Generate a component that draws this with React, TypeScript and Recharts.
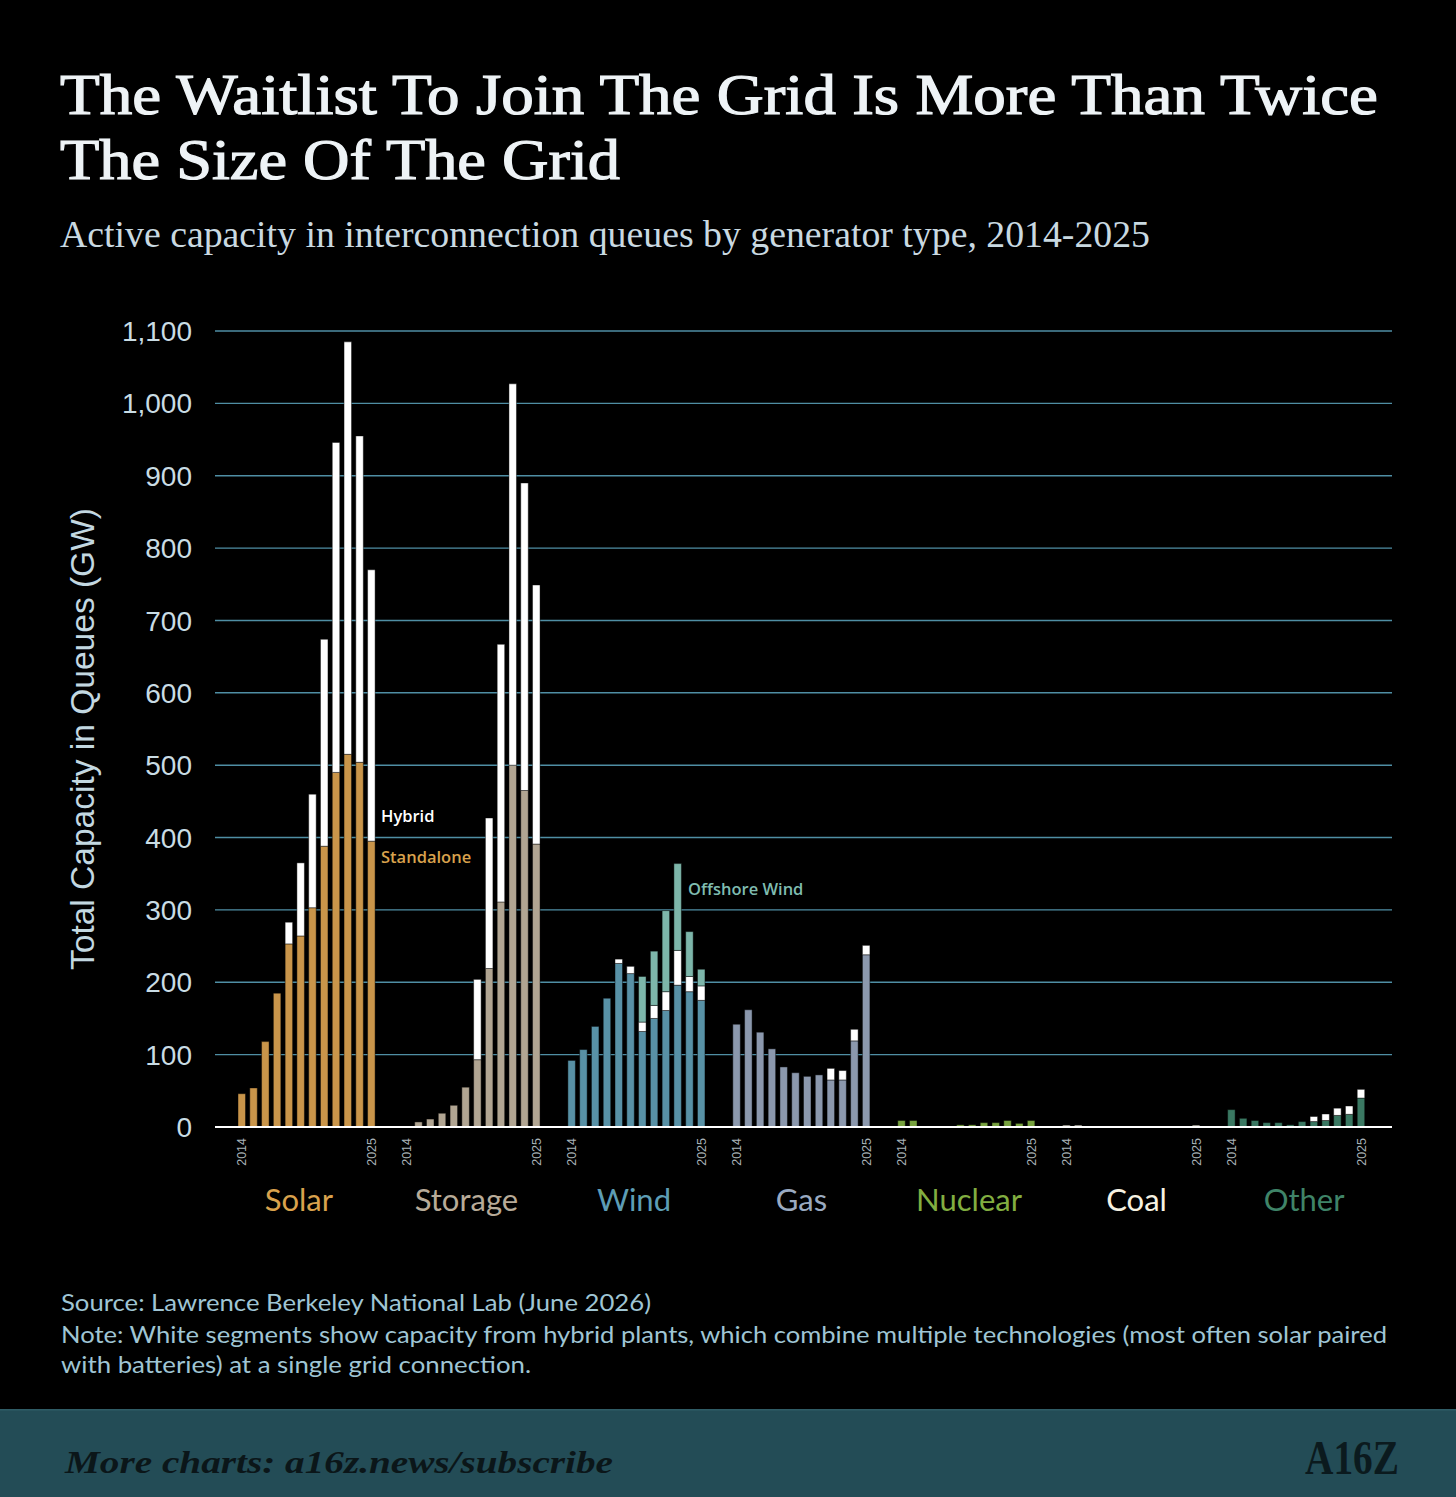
import React from "react";
import { BarChart, Bar, XAxis, YAxis, CartesianGrid, Cell } from "recharts";

// ---------- data ----------
const GROUPS = ["Solar", "Storage", "Wind", "Gas", "Nuclear", "Coal", "Other"];
const YEARS = [2014, 2015, 2016, 2017, 2018, 2019, 2020, 2021, 2022, 2023, 2024, 2025];
const YEAR_TICK_LABELS = ["2014", "2025"];
const Y_TICKS = [0, 100, 200, 300, 400, 500, 600, 700, 800, 900, 1000, 1100];

const SOLAR_STANDALONE = [46, 54, 118, 185, 253, 264, 303, 388, 490, 515, 504, 395];
const SOLAR_HYBRID = [0, 0, 0, 0, 30, 101, 157, 286, 456, 570, 451, 375];

const STORAGE_STANDALONE = [0, 7, 11, 19, 30, 55, 93, 219, 311, 500, 465, 391];
const STORAGE_HYBRID = [0, 0, 0, 0, 0, 0, 111, 208, 356, 527, 425, 358];

const WIND_STANDALONE = [92, 107, 139, 178, 226, 212, 132, 150, 161, 196, 187, 175];
const WIND_HYBRID = [0, 0, 0, 0, 6, 10, 13, 18, 26, 48, 21, 20];
const WIND_OFFSHORE = [0, 0, 0, 0, 0, 0, 63, 75, 112, 120, 62, 23];

const GAS_STANDALONE = [142, 162, 131, 108, 83, 75, 70, 72, 65, 65, 119, 238];
const GAS_HYBRID = [0, 0, 0, 0, 0, 0, 0, 0, 16, 13, 16, 13];

const NUCLEAR_STANDALONE = [9, 9, 0, 0, 0, 3, 3, 6, 6, 9, 5, 9];
const NUCLEAR_HYBRID = [0, 0, 0, 0, 0, 0, 0, 0, 0, 0, 0, 0];

const COAL_STANDALONE = [2.5, 2.5, 0, 0, 0, 0, 0, 0, 0, 0, 0, 2.5];
const COAL_HYBRID = [0, 0, 0, 0, 0, 0, 0, 0, 0, 0, 0, 0];

const OTHER_STANDALONE = [24, 12, 9, 6, 6, 3, 7.5, 7.5, 9, 16, 17.5, 40];
const OTHER_HYBRID = [0, 0, 0, 0, 0, 0, 0, 7, 9, 10, 11.5, 12];

const NO_OFFSHORE = [0, 0, 0, 0, 0, 0, 0, 0, 0, 0, 0, 0];

const STANDALONE_LIST = [SOLAR_STANDALONE, STORAGE_STANDALONE, WIND_STANDALONE, GAS_STANDALONE, NUCLEAR_STANDALONE, COAL_STANDALONE, OTHER_STANDALONE];
const HYBRID_LIST = [SOLAR_HYBRID, STORAGE_HYBRID, WIND_HYBRID, GAS_HYBRID, NUCLEAR_HYBRID, COAL_HYBRID, OTHER_HYBRID];
const OFFSHORE_LIST = [NO_OFFSHORE, NO_OFFSHORE, WIND_OFFSHORE, NO_OFFSHORE, NO_OFFSHORE, NO_OFFSHORE, NO_OFFSHORE];

// ---------- styles ----------
const BAR_COLORS = ["#c9954a", "#b1a592", "#5891a6", "#8b98ad", "#77a23e", "#f2efe2", "#3a7862"];
const LABEL_COLORS = ["#d9a24d", "#b8ab98", "#5d9db5", "#9aaac1", "#82ae40", "#f6f2e2", "#3f8468"];
const HYBRID_COLOR = "#ffffff";
const OFFSHORE_COLOR = "#7db6aa";
const GRID_COLOR = "#4f8ea4";
const GAP_SLOTS = 2;

type Row = {
  key: string;
  group: number;
  yearIdx: number;
  standalone: number | null;
  hybrid: number | null;
  offshore: number | null;
};

const ROWS: Row[] = [];
GROUPS.forEach((g, gi) => {
  YEARS.forEach((y, yi) => {
    ROWS.push({
      key: `${g}-${y}`,
      group: gi,
      yearIdx: yi,
      standalone: STANDALONE_LIST[gi][yi],
      hybrid: HYBRID_LIST[gi][yi],
      offshore: OFFSHORE_LIST[gi][yi],
    });
  });
  if (gi < GROUPS.length - 1) {
    for (let k = 0; k < GAP_SLOTS; k++) {
      ROWS.push({ key: `gap-${gi}-${k}`, group: -1, yearIdx: -1, standalone: null, hybrid: null, offshore: null });
    }
  }
});
const ROW_BY_KEY: Record<string, Row> = {};
ROWS.forEach((r) => (ROW_BY_KEY[r.key] = r));

// ---------- layout ----------
const W = 1456;
const H = 1497;
const CHART_H = 1250;
const PLOT_LEFT = 215;
const PLOT_RIGHT = 1392;
const PLOT_TOP = 331;
const X_AXIS_H = 100;
const PAD_L = 21;
const PAD_R = 25;
const PLOT_BOTTOM = CHART_H - 23 - X_AXIS_H;
const BAND = (PLOT_RIGHT - PLOT_LEFT - PAD_L - PAD_R) / ROWS.length;
// group labels are spread slightly wider than the bar groups in the reference
const GROUP_LABEL_SPREAD = 2.6;

const SANS = "'Liberation Sans', Arial, sans-serif";
const SERIF = "'Liberation Serif', 'DejaVu Serif', serif";

function XTick(props: any) {
  const { x, payload } = props;
  const row = ROW_BY_KEY[payload?.value];
  if (!row || row.group < 0) return <g />;
  const half = typeof payload?.offset === "number" && payload.offset > 0 ? payload.offset : BAND / 2;
  const items: React.ReactNode[] = [];
  const yl = YEARS[row.yearIdx];
  if (YEAR_TICK_LABELS.includes(String(yl))) {
    items.push(
      <text
        key="yr"
        transform={`translate(${x},${PLOT_BOTTOM + 11}) rotate(-90)`}
        textAnchor="end"
        dy="0.36em"
        fontSize={12.5}
        fontFamily={"'Liberation Sans Narrow', " + SANS}
        fill="#a9b3b8"
      >
        {String(yl)}
      </text>
    );
  }
  if (row.yearIdx === 5) {
    const shift = (row.group - (GROUPS.length - 1) / 2) * GROUP_LABEL_SPREAD;
    items.push(
      <text
        key="grp"
        x={x + half + shift}
        y={PLOT_BOTTOM + 84}
        textAnchor="middle"
        fontSize={31}
        fontFamily="Lato, 'Open Sans', sans-serif"
        fill={LABEL_COLORS[row.group]}
      >
        {GROUPS[row.group]}
      </text>
    );
  }
  return <g>{items}</g>;
}

function YTick(props: any) {
  const { y, payload } = props;
  return (
    <text
      x={PLOT_LEFT - 23}
      y={y}
      dy="0.36em"
      textAnchor="end"
      fontSize={28}
      fontFamily={SANS}
      fill="#c9dce4"
    >
      {Number(payload.value).toLocaleString("en-US")}
    </text>
  );
}

export default function App() {
  const barStroke = "rgba(0,0,0,0.55)";
  return (
    <div
      style={{
        position: "absolute",
        left: 0,
        top: 0,
        width: W,
        height: H,
        background: "#000",
        overflow: "hidden",
      }}
    >
      <svg width={W} height={H} style={{ position: "absolute", left: 0, top: 0 }}>
        <text x={60} y={114} fontFamily={SERIF} fontSize={57} fill="#eef3f6" stroke="#eef3f6" strokeWidth={1.2} textLength={1318} lengthAdjust="spacingAndGlyphs">
          The Waitlist To Join The Grid Is More Than Twice
        </text>
        <text x={60} y={178.5} fontFamily={SERIF} fontSize={57} fill="#eef3f6" stroke="#eef3f6" strokeWidth={1.2} textLength={560} lengthAdjust="spacingAndGlyphs">
          The Size Of The Grid
        </text>
        <text x={60} y={247} fontFamily={SERIF} fontSize={37} fill="#c9d9e1" textLength={1090} lengthAdjust="spacingAndGlyphs">
          Active capacity in interconnection queues by generator type, 2014-2025
        </text>

        <text
          transform="translate(94,739) rotate(-90)"
          textAnchor="middle"
          fontFamily={SANS}
          fontSize={33}
          fill="#c3d8e1"
          textLength={462}
          lengthAdjust="spacingAndGlyphs"
        >
          Total Capacity in Queues (GW)
        </text>

        <text x={381} y={822} fontFamily="'Open Sans', Lato, sans-serif" fontWeight={600} fontSize={16.5} fill="#ffffff">
          Hybrid
        </text>
        <text x={381} y={863} fontFamily="'Open Sans', Lato, sans-serif" fontWeight={600} fontSize={16.5} fill="#d9a24d">
          Standalone
        </text>
        <text x={688} y={895} fontFamily="'Open Sans', Lato, sans-serif" fontWeight={600} fontSize={16.5} fill="#7fbcb0">
          Offshore Wind
        </text>

        <text x={61} y={1311} fontFamily="Lato, sans-serif" fontSize={22.5} fill="#9fc5d4" textLength={590} lengthAdjust="spacingAndGlyphs">
          Source: Lawrence Berkeley National Lab (June 2026)
        </text>
        <text x={61} y={1343} fontFamily="Lato, sans-serif" fontSize={22.5} fill="#9fc5d4" textLength={1326} lengthAdjust="spacingAndGlyphs">
          Note: White segments show capacity from hybrid plants, which combine multiple technologies (most often solar paired
        </text>
        <text x={61} y={1373} fontFamily="Lato, sans-serif" fontSize={22.5} fill="#9fc5d4" textLength={470} lengthAdjust="spacingAndGlyphs">
          with batteries) at a single grid connection.
        </text>

        <rect x={0} y={1409} width={W} height={H - 1409} fill="#234c56" />
        <rect x={0} y={1409} width={W} height={1.5} fill="#2f5c66" />
        <text x={65} y={1473} fontFamily={SERIF} fontWeight={700} fontStyle="italic" fontSize={31} fill="#0b1619" textLength={548} lengthAdjust="spacingAndGlyphs">
          More charts: a16z.news/subscribe
        </text>
        <text x={1305} y={1474} fontFamily={SERIF} fontWeight={700} fontSize={48} fill="#0b1a1e" textLength={94} lengthAdjust="spacingAndGlyphs">
          A16Z
        </text>
      </svg>

      <div style={{ position: "absolute", left: 0, top: 0 }}>
        <BarChart
          width={W}
          height={CHART_H}
          data={ROWS}
          margin={{ top: PLOT_TOP, right: W - PLOT_RIGHT, bottom: 23, left: 0 }}
          barSize={7.5}
        >
          <CartesianGrid vertical={false} stroke={GRID_COLOR} strokeWidth={1.4} />
          <YAxis
            width={PLOT_LEFT}
            domain={[0, 1100]}
            ticks={Y_TICKS}
            axisLine={false}
            tickLine={false}
            tick={<YTick />}
            allowDataOverflow
          />
          <XAxis
            dataKey="key"
            type="category"
            interval={0}
            height={X_AXIS_H}
            padding={{ left: PAD_L, right: PAD_R }}
            axisLine={{ stroke: "#ffffff", strokeWidth: 2.2 }}
            tickLine={false}
            tick={<XTick />}
          />
          <Bar dataKey="standalone" stackId="s" isAnimationActive={false} stroke={barStroke} strokeWidth={0.8}>
            {ROWS.map((r) => (
              <Cell key={r.key} fill={r.group >= 0 ? BAR_COLORS[r.group] : "transparent"} />
            ))}
          </Bar>
          <Bar dataKey="hybrid" stackId="s" isAnimationActive={false} fill={HYBRID_COLOR} stroke={barStroke} strokeWidth={0.8} />
          <Bar dataKey="offshore" stackId="s" isAnimationActive={false} fill={OFFSHORE_COLOR} stroke={barStroke} strokeWidth={0.8} />
        </BarChart>
      </div>
    </div>
  );
}
